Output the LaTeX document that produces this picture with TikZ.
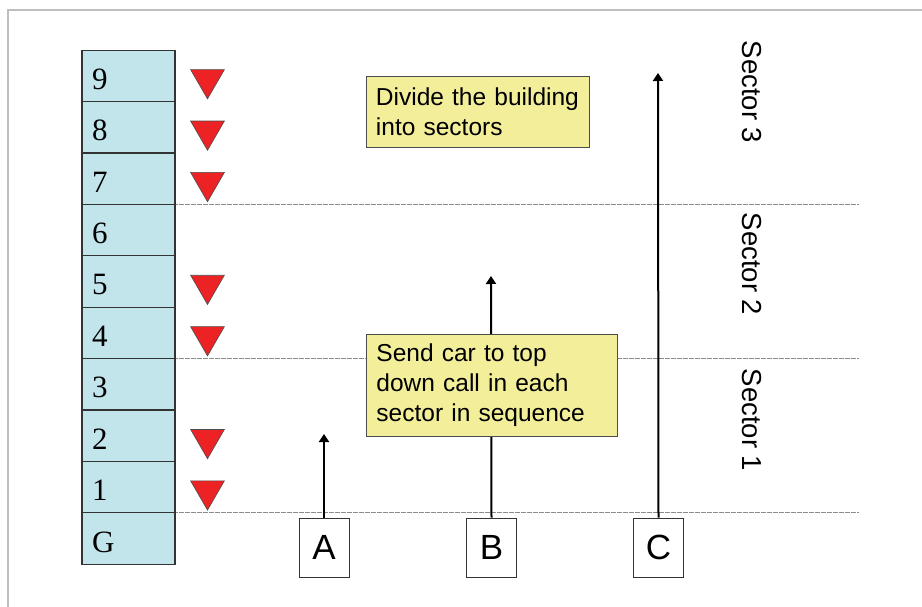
\documentclass[tikz,border=0pt]{standalone}
\usepackage{fontspec}
\setmainfont{Liberation Serif}
\newfontfamily\arial{Liberation Sans}
\usetikzlibrary{shapes.geometric,arrows.meta}
\definecolor{cellblue}{RGB}{194,229,236}
\definecolor{noteyellow}{RGB}{242,238,154}
\definecolor{callred}{RGB}{236,34,36}
\definecolor{framegray}{RGB}{190,190,190}
\tikzset{
  floorcell/.style={draw=black!80, line width=1.2pt, fill=cellblue, minimum width=93pt, minimum height=51.4pt, inner sep=0pt, outer sep=0pt},
  floorlabel/.style={anchor=west, font=\fontsize{31}{31}\selectfont, inner sep=0pt},
  downcall/.style={regular polygon, regular polygon sides=3, shape border rotate=180, draw=black!70, line width=0.6pt, fill=callred, minimum size=39pt, inner sep=0pt},
  sectorline/.style={draw=black!45, line width=1pt, dash pattern=on 0.6pt off 0.6pt},
  carbox/.style={draw=black!80, line width=0.9pt, fill=white, minimum width=50pt, minimum height=59pt, inner sep=0pt, font=\arial\fontsize{35}{35}\selectfont},
  carpath/.style={draw=black, line width=2pt, -{Triangle[length=8pt,width=10pt]}},
  note/.style={draw=black!70, line width=0.9pt, fill=noteyellow, align=left, anchor=north west, inner xsep=10pt, inner ysep=0pt, font=\arial\fontsize{24.5}{30}\selectfont},
  sectorlabel/.style={rotate=-90, font=\arial\fontsize{27.5}{27.5}\selectfont, inner sep=0pt}
}
\begin{document}
\begin{tikzpicture}[x=1pt,y=-1pt]
\useasboundingbox (0,0) rectangle (922,607);
% frame
\draw[framegray, line width=2.5pt] (8,607) -- (8,10) -- (922,10);
% sector lines
\draw[sectorline] (175,204.4) -- (858,204.4);
\draw[sectorline] (175,358.6) -- (858,358.6);
\draw[sectorline] (175,512.8) -- (858,512.8);
% floors
\foreach \k/\t in {0/G,1/1,2/2,3/3,4/4,5/5,6/6,7/7,8/8,9/9}{
  \node[floorcell] (f\k) at (128.5,{538.5-\k*51.4}) {};
  \node[floorlabel] (l\k) at (92,{542-\k*51.4}) {\t};
}
% down calls
\foreach \k in {9,8,7,5,4,2,1}{
  \node[downcall] (d\k) at (207.5,{542-\k*51.4}) {};
}
% cars
\node[carbox] (A) at (324,547.5) {A};
\node[carbox] (B) at (491.5,547.5) {B};
\node[carbox] (C) at (658.5,547.5) {C};
\coordinate (ta) at (324,434);
\coordinate (tb) at (491,276);
\coordinate (tc) at (658,73);
\draw[carpath] (A.north) -- (ta);
\draw[carpath] (B.north) -- (tb);
\draw[carpath] (C.north) -- (tc);
% notes
\node[note, minimum height=71pt, text width=203pt] (n1) at (365.5,76) {Divide the building\\into sectors};
\node[note, minimum height=102pt, text width=231pt] (n2) at (366,334) {Send car to top\\down call in each\\sector in sequence};
% sector labels
\node[sectorlabel] (s3) at (752,92) {Sector 3};
\node[sectorlabel] (s2) at (752,264) {Sector 2};
\node[sectorlabel] (s1) at (752,420) {Sector 1};
\end{tikzpicture}
\end{document}
